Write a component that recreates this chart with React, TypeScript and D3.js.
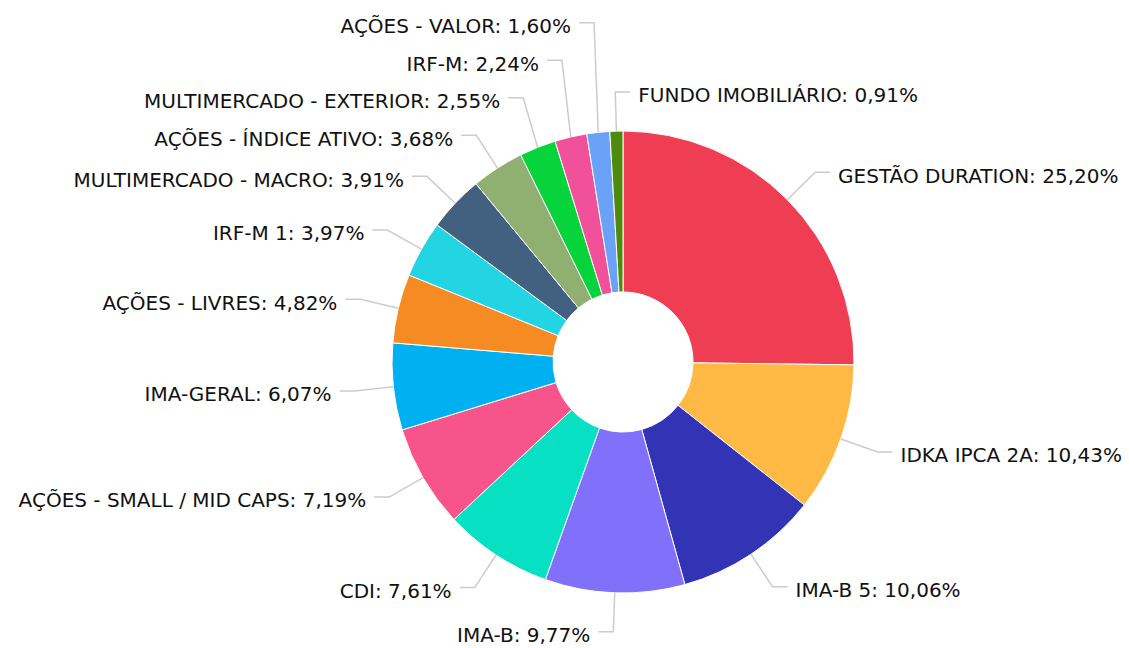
import React from "react";
import * as d3 from "d3";

const categories = [
  "GESTÃO DURATION",
  "IDKA IPCA 2A",
  "IMA-B 5",
  "IMA-B",
  "CDI",
  "AÇÕES - SMALL / MID CAPS",
  "IMA-GERAL",
  "AÇÕES - LIVRES",
  "IRF-M 1",
  "MULTIMERCADO - MACRO",
  "AÇÕES - ÍNDICE ATIVO",
  "MULTIMERCADO - EXTERIOR",
  "IRF-M",
  "AÇÕES - VALOR",
  "FUNDO IMOBILIÁRIO",
];
const values = [25.2, 10.43, 10.06, 9.77, 7.61, 7.19, 6.07, 4.82, 3.97, 3.91, 3.68, 2.55, 2.24, 1.6, 0.91];
const colors = [
  "#EF3E53", "#FFB944", "#3333B5", "#8070FA", "#08E0C4", "#F7548C", "#00B0F0",
  "#F68B24", "#23D5E3", "#42607F", "#8FB071", "#07D43A", "#F0519A", "#6AA2F8", "#4E8A0B",
];

const W = 1129;
const H = 648;
const cx = 623;
const cy = 362;
const rOuter = 231;
const rInner = 70;
const rLabel = 270;
const len2 = 15;
const gapText = 8;
const minSpacing = 37.5;

type Lab = {
  i: number;
  side: 1 | -1;
  ex: number; ey: number;
  tx: number; ty: number;
};

export default function App() {
  const pie = d3.pie<number>().sort(null).value((d) => d).startAngle(0).endAngle(2 * Math.PI);
  const arcs = pie(values);
  const arcGen = d3.arc<d3.PieArcDatum<number>>().innerRadius(rInner).outerRadius(rOuter);

  const labs: Lab[] = arcs.map((a, i) => {
    const m = (a.startAngle + a.endAngle) / 2;
    const s = Math.sin(m);
    const c = Math.cos(m);
    // slices very close to the top go to the right side
    const right = s >= 0 || (c > 0 && s > -0.05);
    return {
      i,
      side: right ? 1 : -1,
      ex: cx + rOuter * s,
      ey: cy - rOuter * c,
      tx: cx + rLabel * s,
      ty: cy - rLabel * c,
    };
  });

  // resolve overlaps per side: push upward from the bottom
  for (const side of [1, -1] as const) {
    const list = labs.filter((l) => l.side === side).sort((a, b) => a.ty - b.ty);
    for (let k = list.length - 2; k >= 0; k--) {
      if (list[k + 1].ty - list[k].ty < minSpacing) list[k].ty = list[k + 1].ty - minSpacing;
    }
    for (let k = 1; k < list.length; k++) {
      if (list[k].ty - list[k - 1].ty < minSpacing) list[k].ty = list[k - 1].ty + minSpacing;
    }
  }

  const fmt = (v: number) => v.toFixed(2).replace(".", ",") + "%";

  return (
    <svg width={W} height={H} style={{ position: "absolute", left: 0, top: 0 }} fontFamily="'DejaVu Sans', Verdana, sans-serif">
      <rect width={W} height={H} fill="#fff" />
      <g transform={`translate(${cx},${cy})`}>
        {arcs.map((a, i) => (
          <path key={i} d={arcGen(a) || ""} fill={colors[i]} stroke="#fff" strokeWidth={1} />
        ))}
      </g>
      {labs.map((l) => {
        const hx = l.tx + l.side * len2;
        return (
          <g key={l.i}>
            <polyline
              points={`${l.ex},${l.ey} ${l.tx},${l.ty} ${hx},${l.ty}`}
              fill="none"
              stroke="#cccccc"
              strokeWidth={1.5}
            />
            <text
              x={hx + l.side * gapText}
              y={l.ty + 10.3}
              textAnchor={l.side === 1 ? "start" : "end"}
              fontSize={20}
              fill="#111"
            >
              {`${categories[l.i]}: ${fmt(values[l.i])}`}
            </text>
          </g>
        );
      })}
    </svg>
  );
}
